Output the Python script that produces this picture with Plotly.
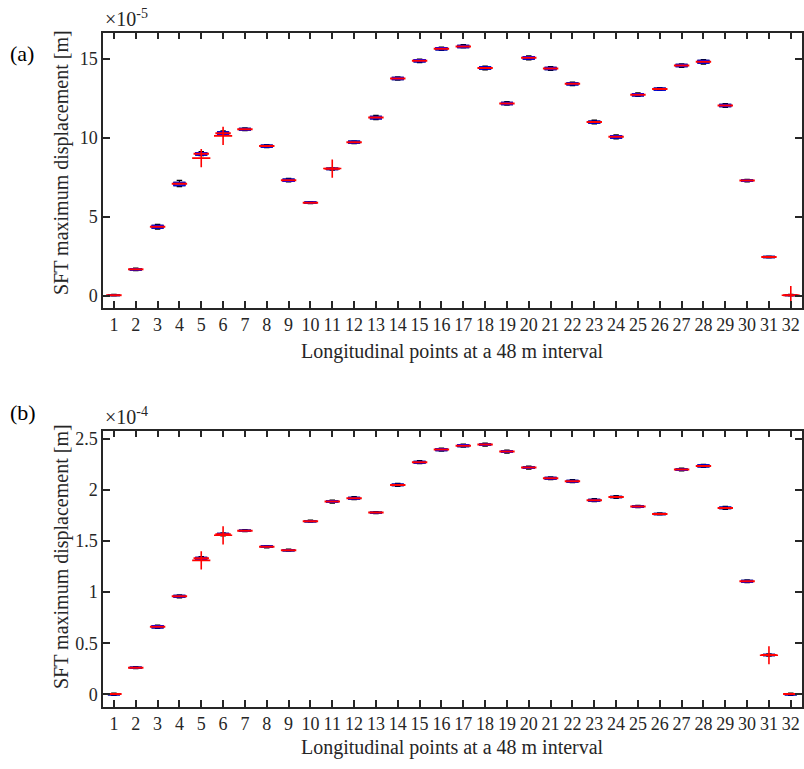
import plotly.graph_objects as go

W, H = 804, 769

positions = list(range(1, 33))
tick_labels = [str(i) for i in positions]

# ---- panel (a): values in units of 1e-5 m ----
a_median = [0.05, 1.69, 4.39, 7.10, 9.00, 10.31, 10.56, 9.49, 7.33, 5.91, 8.05, 9.74, 11.30, 13.77, 14.89, 15.65,
            15.80, 14.43, 12.19, 15.08, 14.41, 13.43, 11.01, 10.08, 12.74, 13.10, 14.59, 14.83, 12.06, 7.31, 2.47, 0.05]
a_q1 = [0.02, 1.63, 4.30, 6.98, 8.92, 10.22, 10.50, 9.43, 7.26, 5.86, 8.00, 9.68, 11.21, 13.70, 14.82, 15.58,
        15.73, 14.36, 12.12, 15.00, 14.33, 13.36, 10.94, 10.00, 12.67, 13.04, 14.52, 14.74, 11.99, 7.26, 2.43, 0.02]
a_q3 = [0.08, 1.74, 4.47, 7.20, 9.08, 10.40, 10.62, 9.55, 7.40, 5.96, 8.10, 9.80, 11.38, 13.84, 14.96, 15.72,
        15.87, 14.50, 12.26, 15.16, 14.48, 13.50, 11.08, 10.16, 12.81, 13.16, 14.66, 14.92, 12.13, 7.36, 2.51, 0.08]
a_low = [0.00, 1.60, 4.24, 6.93, 8.88, 10.17, 10.47, 9.40, 7.22, 5.84, 7.97, 9.65, 11.16, 13.66, 14.78, 15.55,
         15.70, 14.32, 12.08, 14.95, 14.28, 13.32, 10.90, 9.95, 12.63, 13.01, 14.48, 14.68, 11.94, 7.23, 2.41, 0.00]
a_high = [0.10, 1.77, 4.53, 7.32, 9.14, 10.46, 10.65, 9.58, 7.45, 5.98, 8.12, 9.83, 11.43, 13.88, 15.00, 15.76,
          15.91, 14.55, 12.31, 15.21, 14.53, 13.55, 11.13, 10.21, 12.86, 13.19, 14.70, 14.97, 12.18, 7.39, 2.53, 0.10]
a_out_x = [5, 6, 11, 32]
a_out_y = [8.73, 10.14, 8.07, 0.05]

# ---- panel (b): values in units of 1e-4 m ----
b_median = [0.002, 0.260, 0.661, 0.959, 1.330, 1.565, 1.600, 1.444, 1.409, 1.693, 1.885, 1.918, 1.777, 2.048, 2.270, 2.393,
            2.432, 2.442, 2.374, 2.217, 2.113, 2.084, 1.898, 1.930, 1.836, 1.764, 2.198, 2.234, 1.823, 1.106, 0.385, 0.002]
b_q1 = [-0.006, 0.254, 0.650, 0.950, 1.318, 1.555, 1.594, 1.437, 1.403, 1.687, 1.876, 1.909, 1.771, 2.040, 2.261, 2.384,
        2.423, 2.434, 2.365, 2.209, 2.105, 2.075, 1.889, 1.923, 1.829, 1.758, 2.190, 2.225, 1.815, 1.098, 0.378, -0.006]
b_q3 = [0.008, 0.266, 0.671, 0.968, 1.340, 1.574, 1.606, 1.451, 1.415, 1.699, 1.894, 1.927, 1.783, 2.056, 2.279, 2.402,
        2.441, 2.450, 2.383, 2.225, 2.121, 2.093, 1.907, 1.937, 1.843, 1.770, 2.206, 2.243, 1.831, 1.114, 0.392, 0.008]
b_low = [-0.010, 0.250, 0.644, 0.944, 1.312, 1.549, 1.590, 1.433, 1.399, 1.683, 1.870, 1.903, 1.767, 2.034, 2.255, 2.378,
         2.417, 2.428, 2.359, 2.203, 2.099, 2.069, 1.883, 1.917, 1.825, 1.754, 2.184, 2.219, 1.809, 1.092, 0.374, -0.010]
b_high = [0.012, 0.270, 0.677, 0.974, 1.346, 1.580, 1.610, 1.455, 1.419, 1.703, 1.900, 1.933, 1.787, 2.062, 2.285, 2.408,
          2.447, 2.456, 2.389, 2.231, 2.127, 2.099, 1.913, 1.943, 1.847, 1.774, 2.212, 2.249, 1.837, 1.120, 0.396, 0.012]
b_out_x = [5, 6, 31]
b_out_y = [1.31, 1.555, 0.382]

a_yticks = [0, 5, 10, 15]
a_yticktext = ["0", "5", "10", "15"]
b_yticks = [0, 0.5, 1, 1.5, 2, 2.5]
b_yticktext = ["0", "0.5", "1", "1.5", "2", "2.5"]

X_TITLE = "Longitudinal points at a 48 m interval"
Y_TITLE = "SFT maximum displacement [m]"

FONT = "Liberation Serif, Times New Roman, serif"
TXT = "#262626"

fig = go.Figure()


def add_panel(xa, ya, med, q1, q3, lo, hi, ox, oy):
    # whiskers (black)
    fig.add_trace(go.Box(x=positions, q1=q1, median=med, q3=q3, lowerfence=lo, upperfence=hi,
                         width=0.5, whiskerwidth=0.5, boxpoints=False,
                         line=dict(color="black", width=1.2), fillcolor="rgba(0,0,0,0)",
                         xaxis=xa, yaxis=ya, showlegend=False, hoverinfo="skip"))
    # box (blue)
    fig.add_trace(go.Box(x=positions, q1=q1, median=med, q3=q3, lowerfence=q1, upperfence=q3,
                         width=0.5, whiskerwidth=0, boxpoints=False,
                         line=dict(color="#0000ff", width=1.2), fillcolor="rgba(0,0,0,0)",
                         xaxis=xa, yaxis=ya, showlegend=False, hoverinfo="skip"))
    # median (red)
    fig.add_trace(go.Scatter(x=positions, y=med, mode="markers",
                             marker=dict(symbol="line-ew", size=11, line=dict(color="#ff0000", width=2)),
                             xaxis=xa, yaxis=ya, showlegend=False, hoverinfo="skip"))
    # outliers (red +)
    fig.add_trace(go.Scatter(x=ox, y=oy, mode="markers",
                             marker=dict(symbol="cross-thin", size=13, color="#ff0000",
                                         line=dict(color="#ff0000", width=1.6)),
                             xaxis=xa, yaxis=ya, showlegend=False, hoverinfo="skip"))


add_panel("x", "y", a_median, a_q1, a_q3, a_low, a_high, a_out_x, a_out_y)
add_panel("x2", "y2", b_median, b_q1, b_q3, b_low, b_high, b_out_x, b_out_y)


def px_x(x):
    return x / W


def px_y(y):
    return 1 - y / H


xdom = [px_x(103), px_x(801.7)]
ydom_a = [px_y(308), px_y(32.7)]
ydom_b = [px_y(706.7), px_y(430.7)]

axis_common = dict(showline=True, linecolor=TXT, linewidth=1.5, mirror="ticks", ticks="inside",
                   ticklen=7, tickwidth=1.5, tickcolor=TXT, showgrid=False, zeroline=False,
                   tickfont=dict(family=FONT, size=18, color=TXT))


def ann(text, x, y, size, xanchor="left", yanchor="middle", angle=0, color=TXT):
    return dict(text=text, x=px_x(x), y=px_y(y), xref="paper", yref="paper", xanchor=xanchor,
                yanchor=yanchor, textangle=angle, showarrow=False,
                font=dict(family=FONT, size=size, color=color))


xcenter = (103 + 801.7) / 2

fig.update_layout(
    width=W, height=H,
    margin=dict(l=0, r=0, t=0, b=0, autoexpand=False),
    paper_bgcolor="white", plot_bgcolor="white",
    boxmode="overlay",
    xaxis=dict(domain=xdom, range=[0.5, 32.5], tickvals=positions, ticktext=tick_labels,
               anchor="y", **axis_common),
    yaxis=dict(domain=ydom_a, range=[-0.76, 16.67], tickvals=a_yticks, ticktext=a_yticktext,
               anchor="x", **axis_common),
    xaxis2=dict(domain=xdom, range=[0.5, 32.5], tickvals=positions, ticktext=tick_labels,
                anchor="y2", **axis_common),
    yaxis2=dict(domain=ydom_b, range=[-0.121, 2.578], tickvals=b_yticks, ticktext=b_yticktext,
                anchor="x2", **axis_common),
    annotations=[
        ann(X_TITLE, xcenter, 351, 20, xanchor="center"),
        ann(X_TITLE, xcenter, 747, 20, xanchor="center"),
        ann(Y_TITLE, 61, 163, 20, xanchor="center", angle=-90),
        ann(Y_TITLE, 61, 557, 20, xanchor="center", angle=-90),
        ann("(a)", 8, 53, 22, color="black"),
        ann("(b)", 8, 412, 22, color="black"),
        ann("×10<sup>-5</sup>", 103, 32, 20, yanchor="bottom"),
        ann("×10<sup>-4</sup>", 103, 430, 20, yanchor="bottom"),
    ],
)

fig.write_html("out.html", config={"displayModeBar": False},
               post_script="document.body.style.margin='0';document.documentElement.style.overflow='hidden';")
